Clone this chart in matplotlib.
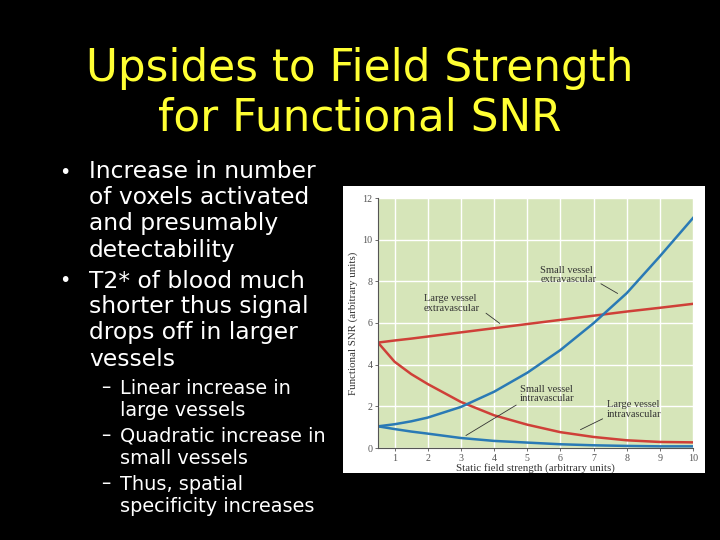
import matplotlib.pyplot as plt
from matplotlib.patches import Rectangle

# slide text
title_lines = ["Upsides to Field Strength", "for Functional SNR"]
bullets = [
    ["Increase in number", "of voxels activated", "and presumably", "detectability"],
    ["T2* of blood much", "shorter thus signal", "drops off in larger", "vessels"],
]
sub_bullets = [
    ["Linear increase in", "large vessels"],
    ["Quadratic increase in", "small vessels"],
    ["Thus, spatial", "specificity increases"],
]

# curve values
field = [0.5, 1, 1.5, 2, 3, 4, 5, 6, 7, 8, 9, 10]
small_extra = [1.04, 1.14, 1.28, 1.46, 1.97, 2.70, 3.61, 4.70, 5.99, 7.43, 9.20, 11.04]
large_extra = [5.06, 5.16, 5.25, 5.35, 5.55, 5.75, 5.95, 6.15, 6.35, 6.55, 6.73, 6.92]
large_intra = [5.06, 4.14, 3.55, 3.07, 2.21, 1.57, 1.12, 0.76, 0.53, 0.37, 0.29, 0.27]
small_intra = [1.04, 0.91, 0.79, 0.69, 0.48, 0.34, 0.26, 0.18, 0.13, 0.10, 0.08, 0.08]

labels = ["Small vessel\nextravascular", "Large vessel\nextravascular",
          "Small vessel\nintravascular", "Large vessel\nintravascular"]
label_pos = [(5.4, 8.3), (1.88, 6.93), (4.79, 2.58), (7.4, 1.84)]
leader_from = [(7.15, 7.95), (3.69, 6.55), (4.74, 2.13), (7.35, 1.46)]
leader_to = [(7.8, 7.35), (4.24, 5.9), (3.08, 0.53), (6.53, 0.82)]

yellow = '#ffff33'
red = '#cf4038'
blue = '#2a7ab5'

fig = plt.figure(figsize=(7.2, 5.4), dpi=100, facecolor='black')

# title
for i, line in enumerate(title_lines):
    fig.text(0.5, 1 - (68 + i * 50) / 540, line, color=yellow, fontsize=31.5,
             ha='center', va='center', family='DejaVu Sans')

# bullets
y = 172
for group in bullets:
    fig.text(65 / 720, 1 - y / 540, '\u2022', color='white', fontsize=14,
             ha='center', va='center')
    for line in group:
        fig.text(89 / 720, 1 - y / 540, line, color='white', fontsize=16.8,
                 ha='left', va='center')
        y += 26
    y += 5
y = 388
for group in sub_bullets:
    fig.text(101 / 720, 1 - y / 540, '\u2013', color='white', fontsize=13.5,
             ha='left', va='center')
    for line in group:
        fig.text(120 / 720, 1 - y / 540, line, color='white', fontsize=13.9,
                 ha='left', va='center')
        y += 22
    y += 4

# white picture background
fig.patches.append(Rectangle((343 / 720, 1 - 473 / 540), 362 / 720, 287 / 540,
                             transform=fig.transFigure, facecolor='white',
                             edgecolor='none', zorder=-1))

ax = fig.add_axes([378 / 720, 1 - 448 / 540, 315 / 720, 250 / 540])
ax.set_facecolor('#d6e5b9')
ax.plot(field, large_extra, color=red, lw=1.8)
ax.plot(field, large_intra, color=red, lw=1.8)
ax.plot(field, small_extra, color=blue, lw=1.8)
ax.plot(field, small_intra, color=blue, lw=1.8)

serif = 'Liberation Serif'
for txt, pos, p0, p1 in zip(labels, label_pos, leader_from, leader_to):
    ax.text(pos[0], pos[1], txt, fontsize=7.6, family=serif, color='#333333',
            ha='left', va='center', linespacing=1.05)
    ax.annotate('', xy=p1, xytext=p0,
                arrowprops=dict(arrowstyle='-', color='#333333', lw=0.6))

ax.set_xlim(0.5, 10)
ax.set_ylim(0, 12)
ax.set_xticks(range(1, 11))
ax.set_yticks(range(0, 13, 2))
ax.grid(True, color='white', lw=1)
ax.set_axisbelow(True)
for s in ['top', 'right']:
    ax.spines[s].set_visible(False)
for s in ['left', 'bottom']:
    ax.spines[s].set_color('#555555')
    ax.spines[s].set_linewidth(0.8)
ax.tick_params(labelsize=7.2, colors='#555555', length=2.5, width=0.6, pad=1.5)
for lab in ax.get_xticklabels() + ax.get_yticklabels():
    lab.set_family(serif)
ax.set_xlabel('Static field strength (arbitrary units)', fontsize=7.8,
              family=serif, color='#333333', labelpad=0)
ax.set_ylabel('Functional SNR (arbitrary units)', fontsize=7.8,
              family=serif, color='#333333', labelpad=3)

fig.savefig('out.png', dpi=100, facecolor='black')
